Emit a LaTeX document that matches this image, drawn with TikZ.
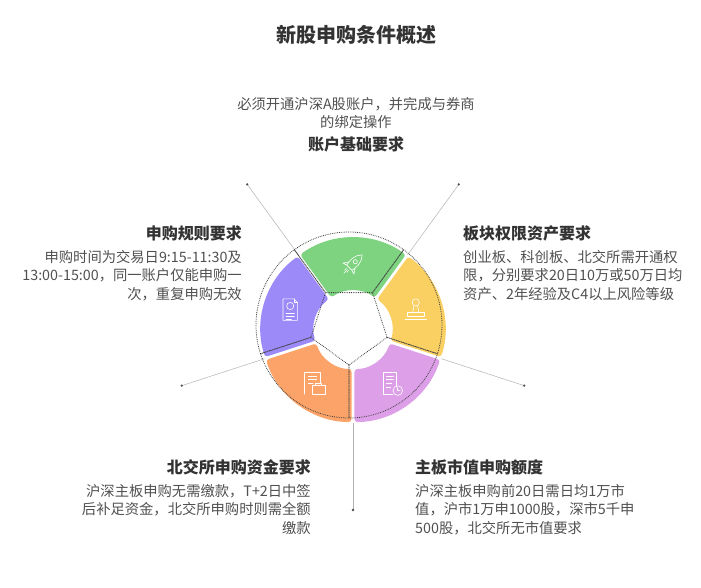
\documentclass[tikz,border=0pt]{standalone}
\usepackage{fontspec}
\setmainfont{Noto Sans CJK SC}
\usetikzlibrary{positioning}
\definecolor{segGreen}{RGB}{125,211,127}
\definecolor{segYellow}{RGB}{250,208,99}
\definecolor{segLilac}{RGB}{221,160,232}
\definecolor{segOrange}{RGB}{251,163,104}
\definecolor{segViolet}{RGB}{155,138,247}
\definecolor{headC}{RGB}{51,51,51}
\definecolor{bodyC}{RGB}{80,80,80}
\tikzset{
  head/.style={font=\fontsize{16}{20}\selectfont\bfseries, text=headC, inner sep=0},
  body/.style={font=\fontsize{14.3}{18.5}\selectfont, text=bodyC, inner sep=0},
  leader/.style={draw=black!30, line width=0.5pt},
  outline/.style={draw=black!75, densely dotted, line width=0.8pt},
  icon/.style={draw=white, line width=0.6pt, line join=round, line cap=round}
}

\begin{document}
\begin{tikzpicture}[x=1pt,y=1pt]
\useasboundingbox (-353,-258) rectangle (348,330);
\node[head, font=\fontsize{20}{24}\selectfont\bfseries] (title) at (3.5,295) {新股申购条件概述};

\foreach \b/\n in {126/a,54/b,-18/c,-90/d,198/e}{
  \coordinate (base\n) at (\b:93);
  \coordinate (tip\n) at (\b:180);
  \draw[leader] (base\n) -- (tip\n);
  \fill[black!70] (tip\n) circle (1.3);
}

\foreach \a/\col in {90/segGreen,18/segYellow,-54/segLilac,-126/segOrange,162/segViolet}
  \fill[\col, rounded corners=3pt, shift={(\a:2.5)}] ({\a-36}:37) arc[start angle=\a-36, end angle=\a+36, radius=37]
    -- ({\a+36}:90) arc[start angle=\a+36, end angle=\a-36, radius=90] -- cycle;

\begin{scope}[shift={(-4,5)}]
\foreach \a in {90,18,-54,-126,162}
  \draw[outline] ({\a-36}:40) -- ({\a-36}:93) arc[start angle=\a-36, end angle=\a+36, radius=93] -- ({\a+36}:40) -- cycle;
\end{scope}

\begin{scope}[shift={(90:66)}, rotate=-45, scale=1.3]
  \draw[icon] (0,10) .. controls (4,6) and (4,0) .. (2.8,-4) -- (-2.8,-4) .. controls (-4,0) and (-4,6) .. (0,10);
  \draw[icon] (0,2.5) circle (1.6);
  \draw[icon] (-3.2,-1) -- (-6,-5) -- (-2.8,-4) (3.2,-1) -- (6,-5) -- (2.8,-4);
  \draw[icon] (-1.2,-6) -- (-1.2,-8) (1.2,-6) -- (1.2,-8) (0,-6) -- (0,-10);
\end{scope}
\begin{scope}[shift={(18:66)}, scale=1.2]
  \draw[icon] (0,6) circle (3);
  \draw[icon] (-1.5,3.3) -- (-2.5,-2) (1.5,3.3) -- (2.5,-2);
  \draw[icon] (-7,-2) rectangle (7,-5.5);
  \draw[icon] (-9,-8) -- (9,-8);
\end{scope}
\begin{scope}[shift={(-54:66)}, scale=1.2]
  \draw[icon] (4,-3) -- (4,9) -- (-7,9) -- (-7,-9) -- (1,-9);
  \draw[icon] (-4.5,6) -- (1.5,6) (-4.5,3) -- (1.5,3) (-4.5,0) -- (0,0) (-4.5,-3) -- (-1,-3);
  \draw[icon] (5,-6) circle (4);
  \draw[icon] (5,-3.5) -- (5,-6) -- (7,-6);
\end{scope}
\begin{scope}[shift={(-126:66)}, scale=1.2]
  \draw[icon] (-8,-9) -- (-8,9) -- (5,9) -- (5,0);
  \draw[icon] (-5,6) -- (2,6) (-5,3) -- (2,3) (-5,0) -- (-1,0);
  \draw[icon] (-2,-9) rectangle (9,-2);
  \draw[icon] (1,-2) -- (1,0) -- (6,0) -- (6,-2);
\end{scope}
\begin{scope}[shift={(162:66)}, scale=1.2]
  \draw[icon] (-6,-9) -- (-6,9) -- (3,9) -- (6,6) -- (6,-9) -- cycle;
  \draw[icon] (3,9) -- (3,6) -- (6,6);
  \draw[icon] (0,3) circle (3);
  \draw[icon] (-3.5,-3) -- (3.5,-3) (-3.5,-5.5) -- (3.5,-5.5) (-3.5,-8) -- (1,-8);
\end{scope}

\node[body, align=center] (accText) at (3,217) {必须开通沪深A股账户，并完成与券商\\的绑定操作};
\node[head, below=7pt of accText] (accHead) {账户基础要求};

\node[head, anchor=east] (ruleHead) at (-111,97) {申购规则要求};
\node[body, align=right, below left=9pt and 0pt of ruleHead.south east] (ruleText) {申购时间为交易日9:15-11:30及\\13:00-15:00，同一账户仅能申购一\\次，重复申购无效};

\node[head, anchor=west] (boardHead) at (110,97) {板块权限资产要求};
\node[body, align=left, below right=9pt and 0pt of boardHead.south west] (boardText) {创业板、科创板、北交所需开通权\\限，分别要求20日10万或50万日均\\资产、2年经验及C4以上风险等级};

\node[head, anchor=east] (fundHead) at (-42,-137) {北交所申购资金要求};
\node[body, align=right, below left=9pt and 0pt of fundHead.south east] (fundText) {沪深主板申购无需缴款，T+2日中签\\后补足资金，北交所申购时则需全额\\缴款};

\node[head, anchor=west] (capHead) at (62,-137) {主板市值申购额度};
\node[body, align=left, below right=9pt and 0pt of capHead.south west] (capText) {沪深主板申购前20日需日均1万市\\值，沪市1万申1000股，深市5千申\\500股，北交所无市值要求};
\end{tikzpicture}
\end{document}
